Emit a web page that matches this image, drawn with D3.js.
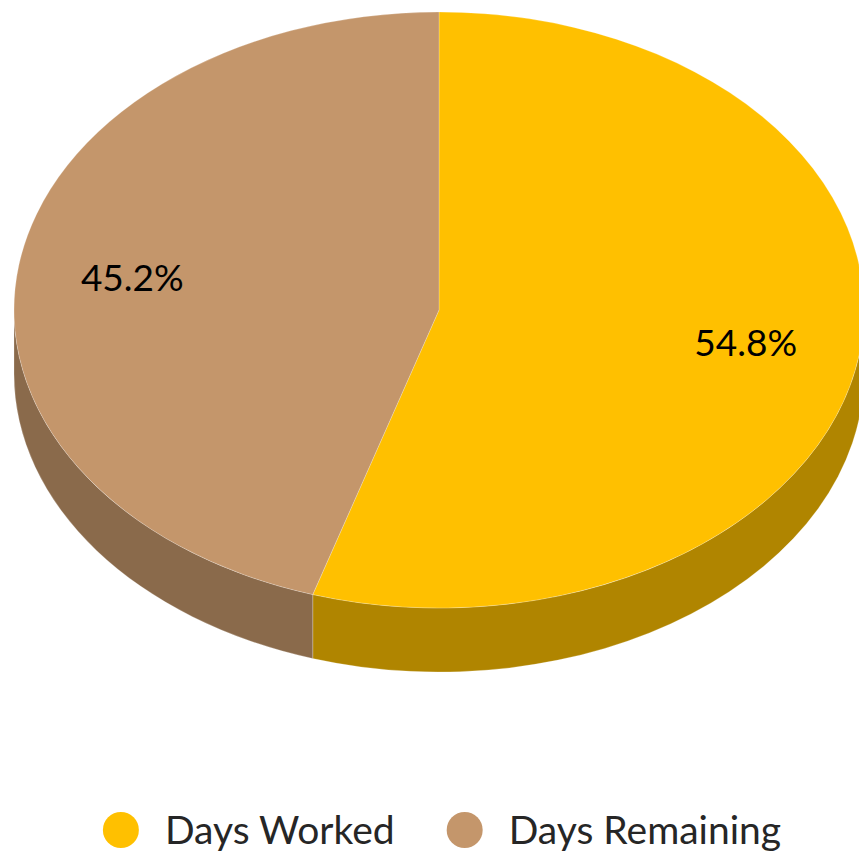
<!DOCTYPE html>
<html>
<head>
<meta charset="utf-8">
<script src="https://cdn.jsdelivr.net/npm/d3@7"></script>
<style>
  html, body { margin: 0; padding: 0; background: #fff; }
  svg { display: block; }
</style>
</head>
<body>
<div id="chart"></div>
<script>
// data
var categories = ["Days Worked", "Days Remaining"];
var shares = [54.8, 45.2];
var labels = ["54.8%", "45.2%"];
var topColors = ["#FFC000", "#C4966B"];
var sideColors = ["#B08500", "#8A6A4B"];

var width = 859,
  height = 853;

var cx = 439,
  cy = 310,
  rx = 425,
  ry = 298,
  depth = 64,
  labelPos = 0.73;

var svg = d3.select("#chart").append("svg")
  .attr("width", width)
  .attr("height", height);

// sin(angle) -> x, cos(angle) -> y  (angle clockwise from 12 o'clock)
var x = d3.scaleLinear().domain([-1, 1]).range([cx - rx, cx + rx]);
var y = d3.scaleLinear().domain([-1, 1]).range([cy + ry, cy - ry]);

var pie = d3.pie().sort(null).value(function(d){ return d; });
var arcs = pie(shares);

function pt(a, f, dy) {
  f = f === undefined ? 1 : f;
  return [x(Math.sin(a) * f), y(Math.cos(a) * f) + (dy || 0)];
}

function topPath(d) {
  var p = d3.path();
  var s = pt(d.startAngle), e = pt(d.endAngle);
  var large = (d.endAngle - d.startAngle) > Math.PI ? 1 : 0;
  p.moveTo(cx, cy);
  p.lineTo(s[0], s[1]);
  return p.toString() + "A" + rx + "," + ry + " 0 " + large + " 1 " + e[0] + "," + e[1] + "Z";
}

function sidePath(d) {
  // only the front half (PI/2 .. 3PI/2) is visible
  var a0 = Math.max(d.startAngle, Math.PI / 2),
    a1 = Math.min(d.endAngle, 3 * Math.PI / 2);
  if (a1 <= a0) return null;
  var s = pt(a0), e = pt(a1), eb = pt(a1, 1, depth), sb = pt(a0, 1, depth);
  return "M" + s[0] + "," + s[1] +
    "A" + rx + "," + ry + " 0 0 1 " + e[0] + "," + e[1] +
    "L" + eb[0] + "," + eb[1] +
    "A" + rx + "," + ry + " 0 0 0 " + sb[0] + "," + sb[1] + "Z";
}

// SIDES.
svg.selectAll("path.side")
  .data(arcs.filter(function(d){ return sidePath(d) !== null; }))
  .enter().append("path")
  .attr("class", "side")
  .attr("d", sidePath)
  .attr("fill", function(d){ return sideColors[d.index]; })
  .attr("stroke", "rgba(255,255,255,0.3)")
  .attr("stroke-width", 0.75);

// TOP.
svg.selectAll("path.top")
  .data(arcs).enter()
  .append("path")
  .attr("class", "top")
  .attr("d", topPath)
  .attr("fill", function(d){ return topColors[d.index]; })
  .attr("stroke", "rgba(255,255,255,0.3)")
  .attr("stroke-width", 0.75);

// LABELS.
svg.selectAll("text.lbl")
  .data(arcs).enter()
  .append("text")
  .attr("class", "lbl")
  .text(function(d){ return labels[d.index]; })
  .attr("x", function(d){ return pt((d.startAngle + d.endAngle) / 2, labelPos)[0]; })
  .attr("y", function(d){ return pt((d.startAngle + d.endAngle) / 2, labelPos)[1]; })
  .attr("dy", "0.36em")
  .attr("text-anchor", "middle")
  .attr("font-family", "Lato, 'Open Sans', sans-serif")
  .attr("font-size", "37px")
  .attr("fill", "#000");

// LEGEND.
var legendY = 830,
  r = 18,
  textGap = 26,
  itemGap = 52,
  legendCenter = 442;

var legend = svg.append("g").attr("class", "legend");
var items = legend.selectAll("g")
  .data(categories).enter()
  .append("g");

items.append("circle")
  .attr("r", r)
  .attr("cy", legendY)
  .attr("fill", function(_, i){ return topColors[i]; });

items.append("text")
  .text(function(d){ return d; })
  .attr("y", legendY)
  .attr("dy", "0.36em")
  .attr("font-family", "Lato, 'Open Sans', sans-serif")
  .attr("font-size", "39px")
  .attr("fill", "#262626");

var cursor = 0;
items.each(function(){
  var g = d3.select(this);
  var tw = g.select("text").node().getComputedTextLength();
  g.select("circle").attr("cx", cursor + r);
  g.select("text").attr("x", cursor + 2 * r + textGap);
  cursor += 2 * r + textGap + tw + itemGap;
});
var total = cursor - itemGap;
legend.attr("transform", "translate(" + (legendCenter - total / 2) + ",0)");
</script>
</body>
</html>
